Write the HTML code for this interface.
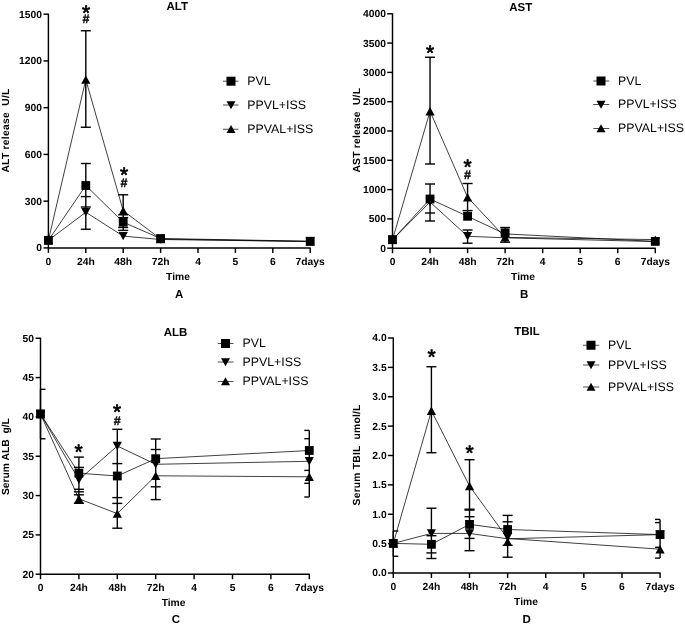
<!DOCTYPE html>
<html lang="en"><head><meta charset="utf-8"><title>ALT, AST, ALB and TBIL time courses</title>
<style>html,body{margin:0;padding:0;background:#fff}svg{display:block;will-change:transform}</style></head><body>
<svg width="685" height="626" viewBox="0 0 685 626" text-rendering="geometricPrecision">
<rect width="685" height="626" fill="#fff"/>
<g stroke="#000" stroke-width="1.45" fill="none" stroke-linecap="butt">
<path d="M48.40 13.70V248.40"/>
<path d="M47.90 247.90H310.70"/>
<path d="M43.50 247.90H48.40"/>
<path d="M43.50 201.16H48.40"/>
<path d="M43.50 154.42H48.40"/>
<path d="M43.50 107.68H48.40"/>
<path d="M43.50 60.94H48.40"/>
<path d="M43.50 14.20H48.40"/>
<path d="M48.40 247.90V252.90"/>
<path d="M85.80 247.90V252.90"/>
<path d="M123.20 247.90V252.90"/>
<path d="M160.60 247.90V252.90"/>
<path d="M198.00 247.90V252.90"/>
<path d="M235.40 247.90V252.90"/>
<path d="M272.80 247.90V252.90"/>
<path d="M310.20 247.90V252.90"/>
</g>
<g font-family='"Liberation Sans", Arial, sans-serif' font-weight="bold" font-size="10.3" fill="#000">
<text x="41.95" y="251.30" text-anchor="end">0</text>
<text x="41.95" y="204.56" text-anchor="end">300</text>
<text x="41.95" y="157.82" text-anchor="end">600</text>
<text x="41.95" y="111.08" text-anchor="end">900</text>
<text x="41.95" y="64.34" text-anchor="end">1200</text>
<text x="41.95" y="17.60" text-anchor="end">1500</text>
<text x="48.40" y="265.10" text-anchor="middle">0</text>
<text x="85.80" y="265.10" text-anchor="middle">24h</text>
<text x="123.20" y="265.10" text-anchor="middle">48h</text>
<text x="160.60" y="265.10" text-anchor="middle">72h</text>
<text x="198.00" y="265.10" text-anchor="middle">4</text>
<text x="235.40" y="265.10" text-anchor="middle">5</text>
<text x="272.80" y="265.10" text-anchor="middle">6</text>
<text x="310.20" y="265.10" text-anchor="middle">7days</text>
<text x="178" y="280.10" text-anchor="middle">Time</text>
<text transform="translate(9.0,130.6) rotate(-90)" text-anchor="middle" textLength="84" lengthAdjust="spacing" xml:space="preserve" style="white-space:pre">ALT release  U/L</text>
</g>
<g font-family='"Liberation Sans", Arial, sans-serif' font-weight="bold" font-size="11.5" fill="#000">
<text x="177.3" y="10.40" text-anchor="middle">ALT</text>
<text x="179.25" y="298.10" text-anchor="middle">A</text>
</g>
<g stroke="#000" stroke-width="0.7">
<path d="M223 81.2H238.5"/>
<path d="M223 105H238.5"/>
<path d="M223 129.25H238.5"/>
</g>
<g fill="#000">
<rect x="226.50" y="76.70" width="9" height="9"/>
<polygon points="231.00,109.30 235.50,101.30 226.50,101.30"/>
<polygon points="231.00,124.95 235.50,132.95 226.50,132.95"/>
</g>
<g font-family='"Liberation Sans", Arial, sans-serif' font-size="12.35" fill="#000">
<text x="247.25" y="85.00">PVL</text>
<text x="247.25" y="108.80">PPVL+ISS</text>
<text x="247.25" y="133.05">PPVAL+ISS</text>
</g>
<g stroke="#000" stroke-width="0.75" fill="none" stroke-linejoin="round">
<polyline points="48.40,240.30 85.80,185.50 123.20,222.20 160.60,238.50 310.20,241.25"/>
<polyline points="48.40,240.30 85.80,212.25 123.20,236.10 160.60,239.50 310.20,241.50"/>
<polyline points="48.40,240.30 85.80,79.60 123.20,210.70 160.60,239.00 310.20,241.50"/>
</g>
<g stroke="#000" stroke-width="1.4" fill="none">
<path d="M85.80 30.75V127.25"/>
<path d="M80.80 30.75H90.80"/>
<path d="M80.80 127.25H90.80"/>
<path d="M85.80 163.50V229.25"/>
<path d="M80.80 163.50H90.80"/>
<path d="M80.80 196.60H90.80"/>
<path d="M80.80 207.00H90.80"/>
<path d="M80.80 229.25H90.80"/>
<path d="M123.20 194.80V230.40"/>
<path d="M118.20 194.80H128.20"/>
<path d="M118.20 214.80H128.20"/>
<path d="M118.20 217.60H128.20"/>
<path d="M118.20 227.50H128.20"/>
<path d="M118.20 230.40H128.20"/>
</g>
<g fill="#000">
<polygon points="48.40,236.10 53.00,244.50 43.80,244.50"/>
<polygon points="85.80,75.40 90.40,83.80 81.20,83.80"/>
<polygon points="123.20,206.50 127.80,214.90 118.60,214.90"/>
<polygon points="160.60,234.80 165.20,243.20 156.00,243.20"/>
<polygon points="310.20,237.30 314.80,245.70 305.60,245.70"/>
<polygon points="48.40,244.50 53.00,236.10 43.80,236.10"/>
<polygon points="85.80,216.45 90.40,208.05 81.20,208.05"/>
<polygon points="123.20,240.30 127.80,231.90 118.60,231.90"/>
<polygon points="160.60,243.70 165.20,235.30 156.00,235.30"/>
<polygon points="310.20,245.70 314.80,237.30 305.60,237.30"/>
<rect x="44.00" y="235.90" width="8.8" height="8.8"/>
<rect x="81.40" y="181.10" width="8.8" height="8.8"/>
<rect x="118.80" y="217.80" width="8.8" height="8.8"/>
<rect x="156.20" y="234.10" width="8.8" height="8.8"/>
<rect x="305.80" y="236.85" width="8.8" height="8.8"/>
</g>
<text x="86" y="19.90" text-anchor="middle" font-family='"Liberation Sans", Arial, sans-serif' font-size="21" fill="#000" stroke="#000" stroke-width="0.75" stroke-linejoin="round">*</text>
<text x="86" y="23.40" text-anchor="middle" font-family='"Liberation Sans", Arial, sans-serif' font-weight="bold" font-size="12.6" fill="#000" stroke="#000" stroke-width="0.3">#</text>
<text x="124" y="182.40" text-anchor="middle" font-family='"Liberation Sans", Arial, sans-serif' font-size="21" fill="#000" stroke="#000" stroke-width="0.75" stroke-linejoin="round">*</text>
<text x="124" y="187.40" text-anchor="middle" font-family='"Liberation Sans", Arial, sans-serif' font-weight="bold" font-size="12.6" fill="#000" stroke="#000" stroke-width="0.3">#</text>
<g stroke="#000" stroke-width="1.45" fill="none" stroke-linecap="butt">
<path d="M392.50 13.30V248.70"/>
<path d="M392.00 248.20H655.78"/>
<path d="M387.20 248.20H392.50"/>
<path d="M387.20 218.90H392.50"/>
<path d="M387.20 189.60H392.50"/>
<path d="M387.20 160.30H392.50"/>
<path d="M387.20 131.00H392.50"/>
<path d="M387.20 101.70H392.50"/>
<path d="M387.20 72.40H392.50"/>
<path d="M387.20 43.10H392.50"/>
<path d="M387.20 13.80H392.50"/>
<path d="M392.50 248.20V253.20"/>
<path d="M430.04 248.20V253.20"/>
<path d="M467.58 248.20V253.20"/>
<path d="M505.12 248.20V253.20"/>
<path d="M542.66 248.20V253.20"/>
<path d="M580.20 248.20V253.20"/>
<path d="M617.74 248.20V253.20"/>
<path d="M655.28 248.20V253.20"/>
</g>
<g font-family='"Liberation Sans", Arial, sans-serif' font-weight="bold" font-size="10.3" fill="#000">
<text x="386.00" y="251.60" text-anchor="end">0</text>
<text x="386.00" y="222.30" text-anchor="end">500</text>
<text x="386.00" y="193.00" text-anchor="end">1000</text>
<text x="386.00" y="163.70" text-anchor="end">1500</text>
<text x="386.00" y="134.40" text-anchor="end">2000</text>
<text x="386.00" y="105.10" text-anchor="end">2500</text>
<text x="386.00" y="75.80" text-anchor="end">3000</text>
<text x="386.00" y="46.50" text-anchor="end">3500</text>
<text x="386.00" y="17.20" text-anchor="end">4000</text>
<text x="392.50" y="265.40" text-anchor="middle">0</text>
<text x="430.04" y="265.40" text-anchor="middle">24h</text>
<text x="467.58" y="265.40" text-anchor="middle">48h</text>
<text x="505.12" y="265.40" text-anchor="middle">72h</text>
<text x="542.66" y="265.40" text-anchor="middle">4</text>
<text x="580.20" y="265.40" text-anchor="middle">5</text>
<text x="617.74" y="265.40" text-anchor="middle">6</text>
<text x="655.28" y="265.40" text-anchor="middle">7days</text>
<text x="523" y="280.10" text-anchor="middle">Time</text>
<text transform="translate(359.6,130.3) rotate(-90)" text-anchor="middle" textLength="84.6" lengthAdjust="spacing" xml:space="preserve" style="white-space:pre">AST release  U/L</text>
</g>
<g font-family='"Liberation Sans", Arial, sans-serif' font-weight="bold" font-size="11.5" fill="#000">
<text x="520.75" y="10.60" text-anchor="middle">AST</text>
<text x="524.25" y="298.10" text-anchor="middle">B</text>
</g>
<g stroke="#000" stroke-width="0.7">
<path d="M593.25 81H609.25"/>
<path d="M593.25 104.5H609.25"/>
<path d="M593.25 128.5H609.25"/>
</g>
<g fill="#000">
<rect x="596.50" y="76.50" width="9" height="9"/>
<polygon points="601.00,108.80 605.50,100.80 596.50,100.80"/>
<polygon points="601.00,124.20 605.50,132.20 596.50,132.20"/>
</g>
<g font-family='"Liberation Sans", Arial, sans-serif' font-size="12.35" fill="#000">
<text x="618.00" y="84.80">PVL</text>
<text x="618.00" y="108.30">PPVL+ISS</text>
<text x="618.00" y="132.30">PPVAL+ISS</text>
</g>
<g stroke="#000" stroke-width="0.75" fill="none" stroke-linejoin="round">
<polyline points="392.50,239.75 430.04,199.00 467.58,216.30 505.12,233.90 655.28,241.40"/>
<polyline points="392.50,239.75 430.04,202.00 467.58,236.30 505.12,237.80 655.28,241.60"/>
<polyline points="392.50,239.75 430.04,111.25 467.58,197.25 505.12,237.40 655.28,239.60"/>
</g>
<g stroke="#000" stroke-width="1.4" fill="none">
<path d="M430.04 57.25V164.00"/>
<path d="M425.04 57.25H435.04"/>
<path d="M425.04 164.00H435.04"/>
<path d="M430.04 184.00V221.00"/>
<path d="M425.04 184.00H435.04"/>
<path d="M425.04 213.00H435.04"/>
<path d="M425.04 221.00H435.04"/>
<path d="M467.58 183.50V216.00"/>
<path d="M462.58 183.50H472.58"/>
<path d="M462.58 210.60H472.58"/>
<path d="M467.58 230.00V243.20"/>
<path d="M462.58 230.00H472.58"/>
<path d="M462.58 243.20H472.58"/>
<path d="M505.12 227.50V242.20"/>
<path d="M500.12 227.50H510.12"/>
<path d="M500.12 242.20H510.12"/>
</g>
<g fill="#000">
<polygon points="392.50,235.55 397.10,243.95 387.90,243.95"/>
<polygon points="430.04,107.05 434.64,115.45 425.44,115.45"/>
<polygon points="467.58,193.05 472.18,201.45 462.98,201.45"/>
<polygon points="505.12,233.20 509.72,241.60 500.52,241.60"/>
<polygon points="655.28,235.40 659.88,243.80 650.68,243.80"/>
<polygon points="392.50,243.95 397.10,235.55 387.90,235.55"/>
<polygon points="430.04,206.20 434.64,197.80 425.44,197.80"/>
<polygon points="467.58,240.50 472.18,232.10 462.98,232.10"/>
<polygon points="505.12,242.00 509.72,233.60 500.52,233.60"/>
<polygon points="655.28,245.80 659.88,237.40 650.68,237.40"/>
<rect x="388.10" y="235.35" width="8.8" height="8.8"/>
<rect x="425.64" y="194.60" width="8.8" height="8.8"/>
<rect x="463.18" y="211.90" width="8.8" height="8.8"/>
<rect x="500.72" y="228.40" width="8.8" height="8.8"/>
<rect x="650.88" y="237.00" width="8.8" height="8.8"/>
</g>
<text x="430" y="60.40" text-anchor="middle" font-family='"Liberation Sans", Arial, sans-serif' font-size="21" fill="#000" stroke="#000" stroke-width="0.75" stroke-linejoin="round">*</text>
<text x="467.6" y="173.90" text-anchor="middle" font-family='"Liberation Sans", Arial, sans-serif' font-size="21" fill="#000" stroke="#000" stroke-width="0.75" stroke-linejoin="round">*</text>
<text x="467.6" y="179.15" text-anchor="middle" font-family='"Liberation Sans", Arial, sans-serif' font-weight="bold" font-size="12.6" fill="#000" stroke="#000" stroke-width="0.3">#</text>
<g stroke="#000" stroke-width="1.45" fill="none" stroke-linecap="butt">
<path d="M40.50 337.75V574.70"/>
<path d="M40.00 574.20H309.80"/>
<path d="M35.60 574.20H40.50"/>
<path d="M35.60 534.88H40.50"/>
<path d="M35.60 495.55H40.50"/>
<path d="M35.60 456.23H40.50"/>
<path d="M35.60 416.90H40.50"/>
<path d="M35.60 377.57H40.50"/>
<path d="M35.60 338.25H40.50"/>
<path d="M40.50 574.20V579.20"/>
<path d="M78.90 574.20V579.20"/>
<path d="M117.30 574.20V579.20"/>
<path d="M155.70 574.20V579.20"/>
<path d="M194.10 574.20V579.20"/>
<path d="M232.50 574.20V579.20"/>
<path d="M270.90 574.20V579.20"/>
<path d="M309.30 574.20V579.20"/>
</g>
<g font-family='"Liberation Sans", Arial, sans-serif' font-weight="bold" font-size="10.3" fill="#000">
<text x="34.05" y="577.60" text-anchor="end">20</text>
<text x="34.05" y="538.27" text-anchor="end">25</text>
<text x="34.05" y="498.95" text-anchor="end">30</text>
<text x="34.05" y="459.62" text-anchor="end">35</text>
<text x="34.05" y="420.30" text-anchor="end">40</text>
<text x="34.05" y="380.97" text-anchor="end">45</text>
<text x="34.05" y="341.65" text-anchor="end">50</text>
<text x="40.50" y="590.90" text-anchor="middle">0</text>
<text x="78.90" y="590.90" text-anchor="middle">24h</text>
<text x="117.30" y="590.90" text-anchor="middle">48h</text>
<text x="155.70" y="590.90" text-anchor="middle">72h</text>
<text x="194.10" y="590.90" text-anchor="middle">4</text>
<text x="232.50" y="590.90" text-anchor="middle">5</text>
<text x="270.90" y="590.90" text-anchor="middle">6</text>
<text x="309.30" y="590.90" text-anchor="middle">7days</text>
<text x="173.6" y="605.85" text-anchor="middle">Time</text>
<text transform="translate(9.4,456.6) rotate(-90)" text-anchor="middle" textLength="77" lengthAdjust="spacing" xml:space="preserve" style="white-space:pre">Serum ALB  g/L</text>
</g>
<g font-family='"Liberation Sans", Arial, sans-serif' font-weight="bold" font-size="11.5" fill="#000">
<text x="175.5" y="335.60" text-anchor="middle">ALB</text>
<text x="176" y="623.35" text-anchor="middle">C</text>
</g>
<g stroke="#000" stroke-width="0.7">
<path d="M217.75 343.5H233.5"/>
<path d="M217.75 362H233.5"/>
<path d="M217.75 381.5H233.5"/>
</g>
<g fill="#000">
<rect x="221.00" y="339.00" width="9" height="9"/>
<polygon points="225.50,366.30 230.00,358.30 221.00,358.30"/>
<polygon points="225.50,377.20 230.00,385.20 221.00,385.20"/>
</g>
<g font-family='"Liberation Sans", Arial, sans-serif' font-size="12.35" fill="#000">
<text x="242.50" y="347.30">PVL</text>
<text x="242.50" y="365.80">PPVL+ISS</text>
<text x="242.50" y="385.30">PPVAL+ISS</text>
</g>
<g stroke="#000" stroke-width="0.75" fill="none" stroke-linejoin="round">
<polyline points="40.50,414.00 78.90,473.20 117.30,476.00 155.70,458.70 309.30,450.50"/>
<polyline points="40.50,414.00 78.90,479.80 117.30,446.00 155.70,464.30 309.30,461.30"/>
<polyline points="40.50,414.00 78.90,498.80 117.30,513.60 155.70,475.80 309.30,476.80"/>
</g>
<g stroke="#000" stroke-width="1.4" fill="none">
<path d="M40.50 389.30V438.80"/>
<path d="M40.50 389.30H45.50"/>
<path d="M40.50 438.80H45.50"/>
<path d="M78.90 457.10V503.30"/>
<path d="M73.90 457.10H83.90"/>
<path d="M73.90 467.40H83.90"/>
<path d="M73.90 489.30H83.90"/>
<path d="M73.90 491.80H83.90"/>
<path d="M73.90 494.80H83.90"/>
<path d="M73.90 503.30H83.90"/>
<path d="M117.30 429.30V528.20"/>
<path d="M112.30 429.30H122.30"/>
<path d="M112.30 463.60H122.30"/>
<path d="M112.30 497.60H122.30"/>
<path d="M112.30 503.40H122.30"/>
<path d="M112.30 528.20H122.30"/>
<path d="M155.70 439.00V499.60"/>
<path d="M150.70 439.00H160.70"/>
<path d="M150.70 449.50H160.70"/>
<path d="M150.70 486.80H160.70"/>
<path d="M150.70 499.60H160.70"/>
<path d="M309.30 430.40V497.00"/>
<path d="M304.30 430.40H309.30"/>
<path d="M304.30 438.70H309.30"/>
<path d="M304.30 470.40H309.30"/>
<path d="M304.30 483.30H309.30"/>
<path d="M304.30 497.00H309.30"/>
</g>
<g fill="#000">
<polygon points="40.50,409.80 45.10,418.20 35.90,418.20"/>
<polygon points="78.90,494.60 83.50,503.00 74.30,503.00"/>
<polygon points="117.30,509.40 121.90,517.80 112.70,517.80"/>
<polygon points="155.70,471.60 160.30,480.00 151.10,480.00"/>
<polygon points="309.30,472.60 313.90,481.00 304.70,481.00"/>
<polygon points="40.50,418.20 45.10,409.80 35.90,409.80"/>
<polygon points="78.90,484.00 83.50,475.60 74.30,475.60"/>
<polygon points="117.30,450.20 121.90,441.80 112.70,441.80"/>
<polygon points="155.70,468.50 160.30,460.10 151.10,460.10"/>
<polygon points="309.30,465.50 313.90,457.10 304.70,457.10"/>
<rect x="36.10" y="409.60" width="8.8" height="8.8"/>
<rect x="74.50" y="468.80" width="8.8" height="8.8"/>
<rect x="112.90" y="471.60" width="8.8" height="8.8"/>
<rect x="151.30" y="454.30" width="8.8" height="8.8"/>
<rect x="304.90" y="446.10" width="8.8" height="8.8"/>
</g>
<text x="78.5" y="459.40" text-anchor="middle" font-family='"Liberation Sans", Arial, sans-serif' font-size="21" fill="#000" stroke="#000" stroke-width="0.75" stroke-linejoin="round">*</text>
<text x="117.2" y="419.20" text-anchor="middle" font-family='"Liberation Sans", Arial, sans-serif' font-size="21" fill="#000" stroke="#000" stroke-width="0.75" stroke-linejoin="round">*</text>
<text x="117.2" y="424.90" text-anchor="middle" font-family='"Liberation Sans", Arial, sans-serif' font-weight="bold" font-size="12.6" fill="#000" stroke="#000" stroke-width="0.3">#</text>
<g stroke="#000" stroke-width="1.45" fill="none" stroke-linecap="butt">
<path d="M393.30 337.50V573.50"/>
<path d="M392.80 573.00H660.57"/>
<path d="M387.90 573.00H393.30"/>
<path d="M387.90 543.62H393.30"/>
<path d="M387.90 514.25H393.30"/>
<path d="M387.90 484.88H393.30"/>
<path d="M387.90 455.50H393.30"/>
<path d="M387.90 426.12H393.30"/>
<path d="M387.90 396.75H393.30"/>
<path d="M387.90 367.38H393.30"/>
<path d="M387.90 338.00H393.30"/>
<path d="M393.30 573.00V578.00"/>
<path d="M431.41 573.00V578.00"/>
<path d="M469.52 573.00V578.00"/>
<path d="M507.63 573.00V578.00"/>
<path d="M545.74 573.00V578.00"/>
<path d="M583.85 573.00V578.00"/>
<path d="M621.96 573.00V578.00"/>
<path d="M660.07 573.00V578.00"/>
</g>
<g font-family='"Liberation Sans", Arial, sans-serif' font-weight="bold" font-size="10.3" fill="#000">
<text x="386.70" y="576.40" text-anchor="end">0.0</text>
<text x="386.70" y="547.02" text-anchor="end">0.5</text>
<text x="386.70" y="517.65" text-anchor="end">1.0</text>
<text x="386.70" y="488.27" text-anchor="end">1.5</text>
<text x="386.70" y="458.90" text-anchor="end">2.0</text>
<text x="386.70" y="429.52" text-anchor="end">2.5</text>
<text x="386.70" y="400.15" text-anchor="end">3.0</text>
<text x="386.70" y="370.77" text-anchor="end">3.5</text>
<text x="386.70" y="341.40" text-anchor="end">4.0</text>
<text x="393.30" y="589.50" text-anchor="middle">0</text>
<text x="431.41" y="589.50" text-anchor="middle">24h</text>
<text x="469.52" y="589.50" text-anchor="middle">48h</text>
<text x="507.63" y="589.50" text-anchor="middle">72h</text>
<text x="545.74" y="589.50" text-anchor="middle">4</text>
<text x="583.85" y="589.50" text-anchor="middle">5</text>
<text x="621.96" y="589.50" text-anchor="middle">6</text>
<text x="660.07" y="589.50" text-anchor="middle">7days</text>
<text x="526" y="604.60" text-anchor="middle">Time</text>
<text transform="translate(359.6,455) rotate(-90)" text-anchor="middle" textLength="100.8" lengthAdjust="spacing" xml:space="preserve" style="white-space:pre">Serum TBIL  umol/L</text>
</g>
<g font-family='"Liberation Sans", Arial, sans-serif' font-weight="bold" font-size="11.5" fill="#000">
<text x="527" y="335.35" text-anchor="middle">TBIL</text>
<text x="526.75" y="622.85" text-anchor="middle">D</text>
</g>
<g stroke="#000" stroke-width="0.7">
<path d="M583 345.25H599.25"/>
<path d="M583 365H599.25"/>
<path d="M583 387H599.25"/>
</g>
<g fill="#000">
<rect x="586.50" y="340.75" width="9" height="9"/>
<polygon points="591.00,369.30 595.50,361.30 586.50,361.30"/>
<polygon points="591.00,382.70 595.50,390.70 586.50,390.70"/>
</g>
<g font-family='"Liberation Sans", Arial, sans-serif' font-size="12.35" fill="#000">
<text x="608.00" y="349.05">PVL</text>
<text x="608.00" y="368.80">PPVL+ISS</text>
<text x="608.00" y="390.80">PPVAL+ISS</text>
</g>
<g stroke="#000" stroke-width="0.75" fill="none" stroke-linejoin="round">
<polyline points="393.30,543.40 431.41,544.30 469.52,524.40 507.63,529.50 660.07,534.60"/>
<polyline points="393.30,543.40 431.41,533.40 469.52,533.45 507.63,538.80 660.07,534.60"/>
<polyline points="393.30,543.40 431.41,410.75 469.52,486.00 507.63,538.50 660.07,549.20"/>
</g>
<g stroke="#000" stroke-width="1.4" fill="none">
<path d="M393.30 531.00V556.30"/>
<path d="M393.30 531.00H398.30"/>
<path d="M393.30 556.30H398.30"/>
<path d="M431.41 366.75V452.70"/>
<path d="M426.41 366.75H436.41"/>
<path d="M426.41 452.70H436.41"/>
<path d="M431.41 508.20V558.50"/>
<path d="M426.41 508.20H436.41"/>
<path d="M426.41 535.70H436.41"/>
<path d="M426.41 552.90H436.41"/>
<path d="M426.41 558.50H436.41"/>
<path d="M469.52 459.70V550.70"/>
<path d="M464.52 459.70H474.52"/>
<path d="M464.52 509.20H474.52"/>
<path d="M464.52 510.10H474.52"/>
<path d="M464.52 516.70H474.52"/>
<path d="M464.52 538.40H474.52"/>
<path d="M464.52 550.70H474.52"/>
<path d="M507.63 515.40V557.20"/>
<path d="M502.63 515.40H512.63"/>
<path d="M502.63 521.80H512.63"/>
<path d="M502.63 545.30H512.63"/>
<path d="M502.63 557.20H512.63"/>
<path d="M660.07 519.40V558.10"/>
<path d="M655.07 519.40H660.07"/>
<path d="M655.07 522.60H660.07"/>
<path d="M655.07 547.30H660.07"/>
<path d="M655.07 558.10H660.07"/>
</g>
<g fill="#000">
<polygon points="393.30,539.20 397.90,547.60 388.70,547.60"/>
<polygon points="431.41,406.55 436.01,414.95 426.81,414.95"/>
<polygon points="469.52,481.80 474.12,490.20 464.92,490.20"/>
<polygon points="507.63,537.50 512.23,545.90 503.03,545.90"/>
<polygon points="660.07,545.00 664.67,553.40 655.47,553.40"/>
<polygon points="393.30,547.60 397.90,539.20 388.70,539.20"/>
<polygon points="431.41,537.60 436.01,529.20 426.81,529.20"/>
<polygon points="469.52,537.65 474.12,529.25 464.92,529.25"/>
<polygon points="507.63,541.50 512.23,533.10 503.03,533.10"/>
<polygon points="660.07,538.80 664.67,530.40 655.47,530.40"/>
<rect x="388.90" y="539.00" width="8.8" height="8.8"/>
<rect x="427.01" y="539.90" width="8.8" height="8.8"/>
<rect x="465.12" y="520.00" width="8.8" height="8.8"/>
<rect x="503.23" y="525.10" width="8.8" height="8.8"/>
<rect x="655.67" y="530.20" width="8.8" height="8.8"/>
</g>
<text x="431.5" y="364.40" text-anchor="middle" font-family='"Liberation Sans", Arial, sans-serif' font-size="21" fill="#000" stroke="#000" stroke-width="0.75" stroke-linejoin="round">*</text>
<text x="469.5" y="459.90" text-anchor="middle" font-family='"Liberation Sans", Arial, sans-serif' font-size="21" fill="#000" stroke="#000" stroke-width="0.75" stroke-linejoin="round">*</text>
</svg></body></html>
